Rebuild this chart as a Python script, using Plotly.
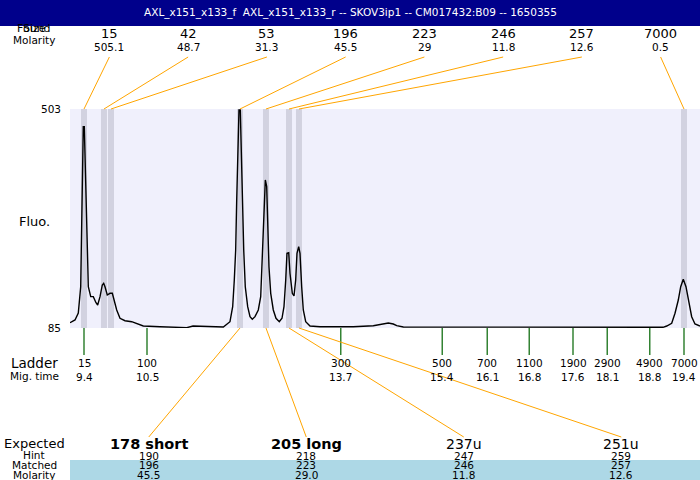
import plotly.graph_objects as go

# ---------------- data ----------------
title_text = "AXL_x151_x133_f  AXL_x151_x133_r -- SKOV3ip1 -- CM017432:B09 -- 1650355"

# electropherogram trace (migration time, fluorescence)
trace_time = [9.167, 9.25, 9.305, 9.345, 9.362, 9.378, 9.388, 9.405, 9.422, 9.445,
              9.472, 9.512, 9.555, 9.6, 9.628, 9.667, 9.705, 9.728, 9.75, 9.788,
              9.833, 9.872, 9.905, 9.945, 10.0, 10.083, 10.195, 10.305, 10.388, 10.667,
              11.112, 11.217, 11.383, 11.722, 11.833, 11.878, 11.905, 11.928, 11.945, 11.962,
              11.983, 12.005, 12.022, 12.038, 12.062, 12.088, 12.128, 12.167, 12.205, 12.25,
              12.305, 12.345, 12.372, 12.4, 12.422, 12.445, 12.462, 12.483, 12.512, 12.555,
              12.6, 12.655, 12.7, 12.733, 12.762, 12.783, 12.812, 12.833, 12.872, 12.9,
              12.928, 12.95, 12.978, 13.0, 13.028, 13.055, 13.095, 13.167, 13.333, 13.888,
              14.222, 14.362, 14.472, 14.555, 14.612, 14.722, 17.80, 17.833, 17.87, 19.05,
              19.112, 19.195, 19.25, 19.305, 19.345, 19.388, 19.433, 19.472, 19.528, 19.583,
              19.667]
trace_fluo = [95.1, 100.3, 113.6, 163.8, 285.4, 392.9, 469.3, 469.3, 392.9, 253.0,
              163.8, 144.8, 144.8, 133.3, 128.9, 144.8, 167.1, 170.3, 163.8, 148.0,
              151.2, 151.2, 138.4, 119.4, 103.5, 98.9, 97.0, 92.6, 88.8, 87.5,
              85.6, 88.8, 88.2, 86.9, 97.0, 125.7, 176.6, 233.9, 329.3, 424.8,
              501.2, 501.2, 424.8, 329.3, 233.9, 163.8, 125.7, 106.6, 101.6, 106.6,
              119.4, 144.8, 233.9, 316.6, 367.5, 354.7, 278.4, 202.0, 151.2, 119.4,
              103.5, 97.0, 103.5, 125.7, 176.6, 227.6, 228.7, 189.4, 151.2, 146.1,
              176.6, 227.6, 240.2, 227.6, 163.8, 119.4, 97.0, 88.8, 87.5, 87.5,
              89.4, 92.6, 94.5, 92.6, 89.4, 86.9, 86.3, 85.2, 86.3, 86.3,
              88.8, 94.0, 113.1, 138.4, 163.8, 178.0, 163.8, 138.4, 106.6, 92.6,
              88.8]

peak_sizes = ["15", "42", "53", "196", "223", "246", "257", "7000"]
peak_molarity = ["505.1", "48.7", "31.3", "45.5", "29", "11.8", "12.6", "0.5"]
peak_times = [9.4, 9.733, 9.85, 12.0, 12.433, 12.817, 12.983, 19.4]

ladder_sizes = ["15", "100", "300", "500", "700", "1100", "1900", "2900", "4900", "7000"]
ladder_time_labels = ["9.4", "10.5", "13.7", "15.4", "16.1", "16.8", "17.6", "18.1", "18.8", "19.4"]
ladder_times = [9.4, 10.45, 13.68, 15.37, 16.12, 16.82, 17.55, 18.12, 18.83, 19.4]

expected_labels = ["178 short", "205 long", "237u", "251u"]
expected_bold = [True, True, False, False]
hint_sizes = ["190", "218", "247", "259"]
matched_sizes = ["196", "223", "246", "257"]
matched_molarity = ["45.5", "29.0", "11.8", "12.6"]
matched_peak_index = [3, 4, 5, 6]

y_min, y_max = 85, 503
x_min, x_max = 9.1667, 19.6667

# ---------------- layout helpers ----------------
W, H = 700, 480
L, T, B = 70, 109, 152
plot_w = W - L
plot_h = H - T - B
FONT = "DejaVu Sans"
ORANGE = "rgb(255,165,0)"
GREEN = "rgb(0,100,0)"
BAND = "rgb(210,210,224)"
BAND_W = 0.1


def py(pix):
    return (H - B - pix) / plot_h


def paper_to_x(f):
    return x_min + f * (x_max - x_min)


def label(text, x, y, size, xref="paper", color="black"):
    return dict(text=text, xref=xref, yref="paper", x=x, y=y, showarrow=False,
                xanchor="center", yanchor="middle",
                font=dict(family=FONT, size=size, color=color))


fig = go.Figure()
fig.add_trace(go.Scatter(x=trace_time, y=trace_fluo, mode="lines",
                         line=dict(color="black", width=1.4), hoverinfo="skip"))

shapes = []
annotations = []

# title bar
shapes.append(dict(type="rect", xref="paper", yref="paper", x0=-L / plot_w, x1=1,
                   y0=py(26), y1=py(0), fillcolor="rgb(0,0,139)", line=dict(width=0), layer="above"))
annotations.append(label(title_text, (350 - L) / plot_w, py(12), 10.5, color="white"))

# peak bands
for t in peak_times:
    shapes.append(dict(type="rect", xref="x", yref="paper", x0=t - BAND_W / 2, x1=t + BAND_W / 2,
                       y0=0, y1=1, fillcolor=BAND, line=dict(width=0), layer="below"))

# top labels and connectors
n = len(peak_sizes)
for i in range(n):
    f = (i + 0.5) / n
    annotations.append(label(peak_sizes[i], f, py(34), 13))
    annotations.append(label(peak_molarity[i], f, py(47), 10.5))
    shapes.append(dict(type="line", xref="x", yref="paper", x0=paper_to_x(f), y0=py(57),
                       x1=peak_times[i], y1=1, line=dict(color=ORANGE, width=1)))

# ladder ticks and labels
for i, t in enumerate(ladder_times):
    shapes.append(dict(type="line", xref="x", yref="paper", x0=t, x1=t, y0=0, y1=py(355),
                       line=dict(color=GREEN, width=1.2)))
    annotations.append(label(ladder_sizes[i], t, py(363), 10.5, xref="x"))
    annotations.append(label(ladder_time_labels[i], t, py(377), 10.5, xref="x"))

# matched band background
shapes.append(dict(type="rect", xref="paper", yref="paper", x0=0, x1=1, y0=py(480), y1=py(460),
                   fillcolor="rgb(173,216,230)", line=dict(width=0), layer="below"))

# expected row
m = len(expected_labels)
for i in range(m):
    f = (i + 0.5) / m
    txt = "<b>%s</b>" % expected_labels[i] if expected_bold[i] else expected_labels[i]
    annotations.append(label(txt, f, py(443.5), 14.5 if expected_bold[i] else 14))
    annotations.append(label(hint_sizes[i], f, py(455.5), 10.5))
    annotations.append(label(matched_sizes[i], f, py(465), 10.5))
    annotations.append(label(matched_molarity[i], f, py(475), 10.5))
    shapes.append(dict(type="line", xref="x", yref="paper", x0=peak_times[matched_peak_index[i]], y0=0,
                       x1=paper_to_x(f), y1=py(437), line=dict(color=ORANGE, width=1)))

# left-column labels
left_x = (34 - L) / plot_w
for txt, ypix, size in [("Size", 28, 11), ("Found", 28, 11), ("Molarity", 40, 10.5), ("Fluo.", 221, 13),
                        ("Ladder", 363, 13.5), ("Mig. time", 376, 10.5), ("Expected", 443, 13),
                        ("Hint", 455, 10.5), ("Matched", 465, 10.5), ("Molarity", 474.5, 10.5)]:
    annotations.append(label(txt, left_x, py(ypix), size))

fig.update_layout(
    width=W, height=H, autosize=False,
    margin=dict(l=L, r=0, t=T, b=B, pad=0),
    paper_bgcolor="white", plot_bgcolor="rgb(240,240,252)",
    showlegend=False,
    shapes=shapes, annotations=annotations,
    font=dict(family=FONT, color="black"),
    xaxis=dict(range=[x_min, x_max], showgrid=False, zeroline=False, showticklabels=False,
               ticks="", showline=False, fixedrange=True),
    yaxis=dict(range=[y_min, y_max], showgrid=False, zeroline=False, tickvals=[y_min, y_max],
               ticktext=[str(y_min), str(y_max)], ticks="", showline=False, ticklabelstandoff=8,
               tickfont=dict(family=FONT, size=10.5, color="black"), fixedrange=True),
)

fig.write_html("out.html", config={"displayModeBar": False},
               post_script="document.body.style.margin='0';document.body.style.padding='0';"
                           "document.body.style.overflow='hidden';")
